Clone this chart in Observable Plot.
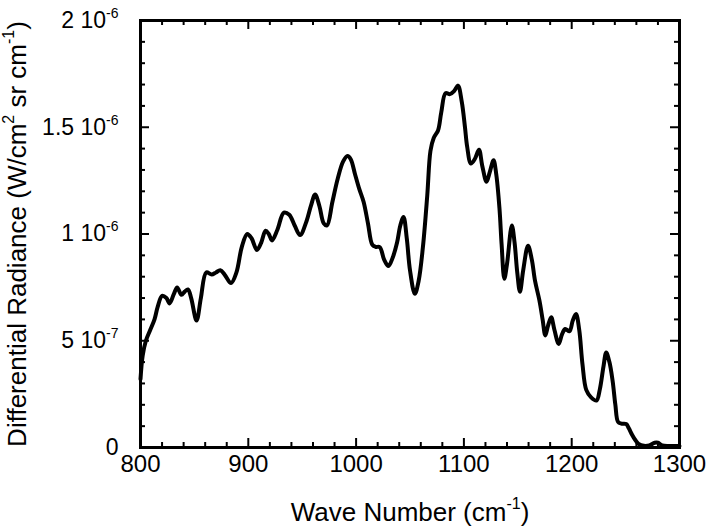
<!DOCTYPE html>
<html>
<head>
<meta charset="utf-8">
<script src="https://cdn.jsdelivr.net/npm/d3@7"></script>
<script src="https://cdn.jsdelivr.net/npm/@observablehq/plot@0.6"></script>
<style>
  html, body { margin: 0; padding: 0; background: #fff; }
  #chart { width: 708px; height: 526px; }
</style>
</head>
<body>
<div id="chart"></div>
<script>
// Wave number (cm^-1)
const wavenumber = [
  800, 802, 805, 809, 813, 816, 820, 824, 827, 831, 834, 838, 841, 844, 847, 852, 856, 861, 866, 870,
  874, 878, 884, 889, 894, 899, 903, 908, 912, 916, 919, 922, 927, 933, 938, 943, 948, 954, 958, 962,
  966, 970, 973, 978, 983, 988, 992, 995, 999, 1003, 1007, 1011, 1015, 1018, 1022, 1026, 1030, 1034, 1038, 1041,
  1044, 1047, 1050, 1054.5, 1058, 1062, 1066, 1069, 1072, 1076, 1079, 1083, 1087, 1091, 1094.5, 1098, 1101, 1103, 1106.5, 1110,
  1114, 1117, 1121, 1124, 1127.5, 1130, 1133, 1135, 1137.5, 1140, 1144.5, 1147, 1149.5, 1152, 1155, 1159.5, 1163, 1166, 1170, 1173,
  1175.5, 1178, 1181, 1184, 1188, 1191, 1194, 1198, 1201, 1204, 1207, 1210, 1213.5, 1218, 1223, 1226, 1229.5, 1232, 1235, 1238,
  1240.5, 1243, 1246, 1250.5, 1253, 1256, 1259, 1262, 1267, 1272, 1277, 1280, 1284, 1290, 1300
];
// Differential radiance (W/cm^2 sr cm^-1)
const radiance = [
  3.2e-7, 4.3e-7, 5.0e-7, 5.5e-7, 6.0e-7, 6.6e-7, 7.1e-7, 7.0e-7, 6.75e-7, 7.2e-7, 7.5e-7, 7.15e-7, 7.3e-7, 7.4e-7, 7.0e-7, 5.95e-7, 7.0e-7, 8.2e-7, 8.1e-7, 8.2e-7,
  8.3e-7, 8.1e-7, 7.7e-7, 8.2e-7, 9.4e-7, 10.0e-7, 9.8e-7, 9.25e-7, 9.6e-7, 10.15e-7, 10.0e-7, 9.7e-7, 10.2e-7, 11.0e-7, 10.9e-7, 10.4e-7, 9.95e-7, 10.6e-7, 11.3e-7, 11.85e-7,
  11.3e-7, 10.5e-7, 10.4e-7, 11.5e-7, 12.6e-7, 13.4e-7, 13.65e-7, 13.5e-7, 12.8e-7, 12.1e-7, 11.5e-7, 10.5e-7, 9.5e-7, 9.4e-7, 9.38e-7, 8.8e-7, 8.5e-7, 8.9e-7, 9.6e-7, 10.4e-7,
  10.8e-7, 9.8e-7, 8.3e-7, 7.2e-7, 7.8e-7, 9.4e-7, 11.8e-7, 13.9e-7, 14.5e-7, 14.85e-7, 15.7e-7, 16.6e-7, 16.55e-7, 16.7e-7, 16.95e-7, 16.2e-7, 15.0e-7, 14.1e-7, 13.3e-7, 13.5e-7,
  13.95e-7, 13.2e-7, 12.45e-7, 12.9e-7, 13.45e-7, 12.8e-7, 11.2e-7, 9.5e-7, 7.9e-7, 8.6e-7, 10.4e-7, 9.6e-7, 8.2e-7, 7.3e-7, 8.3e-7, 9.45e-7, 8.8e-7, 7.8e-7, 6.9e-7, 6.0e-7,
  5.25e-7, 5.7e-7, 6.1e-7, 5.5e-7, 4.85e-7, 5.3e-7, 5.55e-7, 5.45e-7, 5.95e-7, 6.25e-7, 5.5e-7, 3.9e-7, 2.7e-7, 2.35e-7, 2.2e-7, 2.7e-7, 3.8e-7, 4.45e-7, 4.0e-7, 3.1e-7,
  2.0e-7, 1.2e-7, 1.12e-7, 1.1e-7, 0.9e-7, 0.6e-7, 0.35e-7, 0.17e-7, 0.08e-7, 0.1e-7, 0.22e-7, 0.22e-7, 0.1e-7, 0.07e-7, 0.07e-7
];

// Axis ticks
const xMajorTicks = [800, 900, 1000, 1100, 1200, 1300];
const xMinorTicks = [820, 840, 860, 880, 920, 940, 960, 980, 1020, 1040, 1060, 1080, 1120, 1140, 1160, 1180, 1220, 1240, 1260, 1280];
const yMajorTicks = [0, 5e-7, 1e-6, 1.5e-6, 2e-6];
const yMinorTicks = [1e-7, 2e-7, 3e-7, 4e-7, 6e-7, 7e-7, 8e-7, 9e-7, 1.1e-6, 1.2e-6, 1.3e-6, 1.4e-6, 1.6e-6, 1.7e-6, 1.8e-6, 1.9e-6];
// tick labels: base|superscript
const yTickLabels = ["0", "5 10|-7", "1 10|-6", "1.5 10|-6", "2 10|-6"];
const xTitle = "Wave Number (cm|-1|)";
const yTitle = "Differential Radiance (W/cm|2| sr cm|-1|)";

const data = wavenumber.map((w, i) => ({wn: w, r: radiance[i]}));

const W = 708, H = 526;
const mL = 140, mR = 29, mT = 20, mB = 79;
const innerW = W - mL - mR, innerH = H - mT - mB;
const majorLen = 9, minorLen = 5;

const chart = Plot.plot({
  width: W, height: H,
  marginLeft: mL, marginRight: mR, marginTop: mT, marginBottom: mB,
  x: {domain: [800, 1300]},
  y: {domain: [0, 2e-6]},
  style: {fontFamily: "'Liberation Sans', Arial, sans-serif", fontSize: "20px", color: "black", background: "white"},
  marks: [
    Plot.line(data, {x: "wn", y: "r", stroke: "black", strokeWidth: 4, curve: "catmull-rom", strokeLinejoin: "round"}),
    // bottom & top ticks
    Plot.tickX(xMajorTicks, {x: d => d, stroke: "black", strokeWidth: 2, insetTop: innerH - majorLen}),
    Plot.tickX(xMinorTicks, {x: d => d, stroke: "black", strokeWidth: 2, insetTop: innerH - minorLen}),
    Plot.tickX(xMajorTicks, {x: d => d, stroke: "black", strokeWidth: 2, insetBottom: innerH - majorLen}),
    Plot.tickX(xMinorTicks, {x: d => d, stroke: "black", strokeWidth: 2, insetBottom: innerH - minorLen}),
    // left & right ticks
    Plot.tickY(yMajorTicks, {y: d => d, stroke: "black", strokeWidth: 2, insetRight: innerW - majorLen}),
    Plot.tickY(yMinorTicks, {y: d => d, stroke: "black", strokeWidth: 2, insetRight: innerW - minorLen}),
    Plot.tickY(yMajorTicks, {y: d => d, stroke: "black", strokeWidth: 2, insetLeft: innerW - majorLen}),
    Plot.tickY(yMinorTicks, {y: d => d, stroke: "black", strokeWidth: 2, insetLeft: innerW - minorLen}),
    Plot.frame({stroke: "black", strokeWidth: 3}),
    Plot.axisX({ticks: xMajorTicks, tickSize: 0, tickPadding: 7, tickFormat: d => String(d), fontSize: 24,
      label: xTitle, labelAnchor: "center", labelOffset: 73}),
    Plot.axisY({ticks: yMajorTicks, tickSize: 0, tickPadding: 22, fontSize: 23,
      tickFormat: d => yTickLabels[yMajorTicks.indexOf(d)],
      label: yTitle, labelAnchor: "center", labelOffset: 133})
  ]
});
document.getElementById("chart").appendChild(chart);

// Render "base|sup|base" strings with real superscripts
function supify(el, str, basePx) {
  const parts = str.split("|");
  if (parts.length < 2) return;
  el.textContent = "";
  const supPx = Math.round(basePx * 0.6);
  const shift = Math.round(basePx * 0.45);
  parts.forEach((p, i) => {
    if (p === "") return;
    const t = document.createElementNS("http://www.w3.org/2000/svg", "tspan");
    t.textContent = p;
    if (i % 2 === 1) {
      t.setAttribute("font-size", supPx);
      t.setAttribute("dy", -shift);
    } else if (i > 0) {
      t.setAttribute("dy", shift);
    }
    el.appendChild(t);
  });
}
const svg = d3.select(chart);
svg.selectAll("text").filter(function() { return this.textContent.startsWith("Wave") || this.textContent.startsWith("Differential"); })
  .attr("font-size", 26).style("font-size", "26px");
svg.selectAll("text").each(function() {
  const s = this.textContent;
  if (s.includes("|")) {
    const fs = parseFloat(getComputedStyle(this).fontSize) || 20;
    const clean = s.replace(/\s*[→↑←↓]\s*/g, "");
    supify(this, clean, fs);
  }
});
</script>
</body>
</html>
